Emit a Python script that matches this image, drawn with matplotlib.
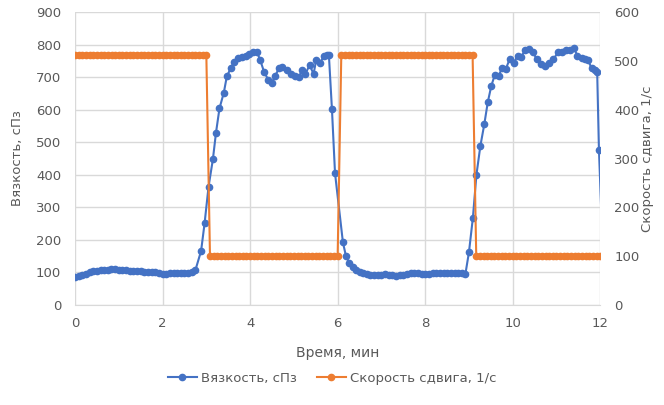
import numpy as np
import matplotlib.pyplot as plt
from matplotlib.lines import Line2D

plt.rcParams['font.family'] = ['DejaVu Sans']

# Вязкость: время (мин) и значения (сПз)
t_visc = [0.0, 0.083, 0.167, 0.25, 0.333, 0.417, 0.5, 0.583, 0.667, 0.75,
          0.833, 0.917, 1.0, 1.083, 1.167, 1.25, 1.333, 1.417, 1.5, 1.583,
          1.667, 1.75, 1.833, 1.917, 2.0, 2.083, 2.167, 2.25, 2.333, 2.417,
          2.5, 2.583, 2.667, 2.75,
          2.88, 2.96, 3.05, 3.15, 3.22, 3.30, 3.40, 3.47, 3.56, 3.64,
          3.73, 3.82, 3.91, 3.98, 4.07, 4.16, 4.23, 4.32, 4.42, 4.49,
          4.57, 4.66, 4.74, 4.84, 4.93, 5.03, 5.12, 5.18, 5.26, 5.36,
          5.45, 5.51, 5.60, 5.68, 5.75, 5.80, 5.87, 5.94, 6.12, 6.19,
          6.27, 6.35, 6.43, 6.51, 6.59,
          6.67, 6.75, 6.83, 6.92, 7.0, 7.08, 7.17, 7.25, 7.33, 7.42,
          7.5, 7.58, 7.67, 7.75, 7.83, 7.92, 8.0, 8.08, 8.17, 8.25,
          8.33, 8.42, 8.5, 8.58, 8.67, 8.75, 8.83, 8.92,
          9.0, 9.09, 9.17, 9.26, 9.35, 9.43, 9.51, 9.59, 9.68, 9.75,
          9.84, 9.93, 10.02, 10.11, 10.19, 10.29, 10.37, 10.46, 10.55, 10.64,
          10.74, 10.84, 10.93, 11.03, 11.12, 11.22, 11.31, 11.39, 11.48, 11.58,
          11.66, 11.72, 11.80, 11.87, 11.93, 11.97, 12.02]
v_visc = [85, 88, 92, 96, 100, 103, 105, 106, 107, 109,
          111, 112, 109, 107, 106, 105, 104, 104, 103, 102,
          101, 100, 100, 98, 94, 96, 97, 97, 97, 98,
          98, 98, 100, 107,
          166, 251, 363, 448, 529, 604, 653, 704, 727, 748,
          758, 763, 766, 771, 778, 776, 753, 716, 691, 681,
          704, 727, 732, 722, 710, 704, 700, 722, 710, 737,
          710, 753, 743, 765, 768, 768, 601, 405, 193, 150,
          128, 116, 108, 102, 97,
          95, 93, 93, 92, 93, 94, 92, 91, 90, 92,
          93, 95, 97, 98, 97, 95, 95, 96, 97, 98,
          97, 98, 98, 99, 99, 98, 98, 96,
          162, 268, 399, 488, 555, 623, 673, 707, 704, 727,
          724, 756, 743, 766, 763, 783, 788, 778, 755, 740,
          735, 743, 755, 776, 776, 783, 783, 791, 766, 760,
          757, 753, 728, 722, 715, 476, 300]

# Скорость сдвига: шаг 5 с
t_shear = np.arange(145) / 12
v_shear = [512] * 37 + [100] * 36 + [512] * 37 + [100] * 35

blue = '#4472C4'
orange = '#ED7D31'
grey = '#595959'

fig = plt.figure(figsize=(6.64, 4.05), dpi=100)
ax1 = fig.add_axes([0.113, 0.247, 0.791, 0.723])
ax2 = ax1.twinx()

# последняя точка за пределами оси — без маркера
ax1.plot(t_visc, v_visc, color=blue, lw=1.5, marker='o', ms=4.5, zorder=3,
         markevery=list(range(len(t_visc) - 1)))
ax2.plot(t_shear, v_shear, color=orange, lw=1.5, marker='o', ms=4.5, zorder=3)

ax1.set_xlim(0, 12)
ax1.set_ylim(0, 900)
ax2.set_ylim(0, 600)
ax1.set_xticks(range(0, 13, 2))
ax1.set_yticks(range(0, 901, 100))
ax2.set_yticks(range(0, 601, 100))

ax1.grid(True, color='#d9d9d9', lw=1)
ax1.set_axisbelow(True)

for ax in (ax1, ax2):
    for s in ax.spines.values():
        s.set_visible(False)
ax1.spines['bottom'].set_visible(True)
ax1.spines['bottom'].set_color('#d9d9d9')

ax1.tick_params(axis='y', length=0, labelsize=9.5, labelcolor=grey, pad=10)
ax1.tick_params(axis='x', length=0, labelsize=9.5, labelcolor=grey, pad=9)
ax2.tick_params(axis='y', length=0, labelsize=9.5, labelcolor=grey, pad=10)

ax1.set_xlabel('Время, мин', fontsize=10, color=grey)
ax1.set_ylabel('Вязкость, сПз', fontsize=9.5, color=grey)
ax2.set_ylabel('Скорость сдвига, 1/с', fontsize=9.5, color=grey)
ax1.xaxis.set_label_coords(0.5, -0.14)
ax1.yaxis.set_label_coords(-0.097, 0.5)
ax2.yaxis.set_label_coords(1.078, 0.5)

handles = [Line2D([], [], color=blue, lw=1.5, marker='o', ms=4.5),
           Line2D([], [], color=orange, lw=1.5, marker='o', ms=4.5)]
fig.legend(handles, ['Вязкость, сПз', 'Скорость сдвига, 1/с'], loc='center',
           bbox_to_anchor=(0.5, 0.066), ncol=2, frameon=False,
           fontsize=9.5, labelcolor=grey, handlelength=2.2, columnspacing=1.5,
           handletextpad=0.3)

fig.savefig('out.png', dpi=100)
